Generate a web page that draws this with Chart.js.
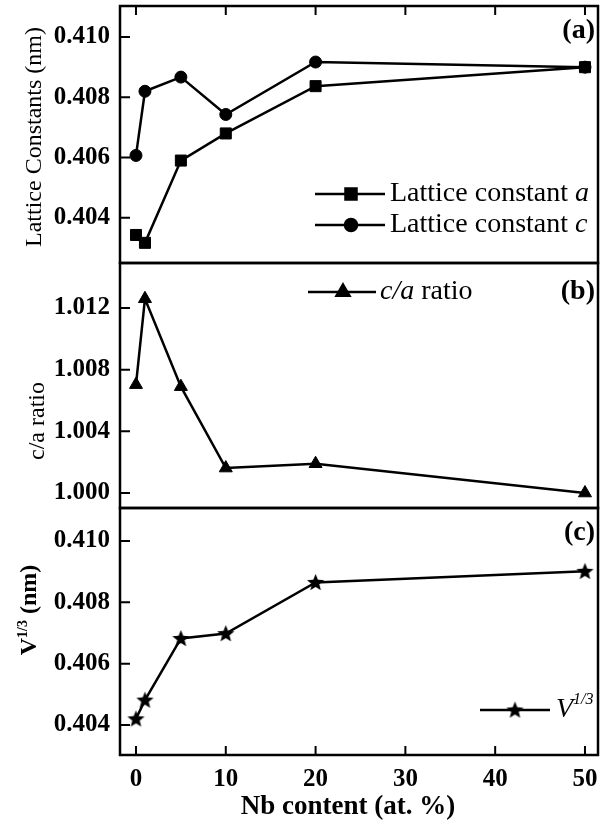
<!DOCTYPE html>
<html>
<head>
<meta charset="utf-8">
<script src="https://cdn.jsdelivr.net/npm/chart.js@4.4.1/dist/chart.umd.min.js"></script>
<style>
  body { margin: 0; background: #fff; }
  #wrap { position: relative; width: 603px; height: 826px; background: #fff; }
  canvas { position: absolute; left: 0; }
</style>
</head>
<body>
<div id="wrap">
  <canvas id="chartA" width="603" height="266" style="top:0;width:603px;height:266px"></canvas>
  <canvas id="chartB" width="603" height="251" style="top:260px;width:603px;height:251px"></canvas>
  <canvas id="chartC" width="603" height="321" style="top:505px;width:603px;height:321px"></canvas>
</div>
<script>
// данные
var nbContent = [0, 1, 5, 10, 20, 50];
var latticeA  = [0.40343, 0.40317, 0.40590, 0.40680, 0.40837, 0.40900];
var latticeC  = [0.40607, 0.40820, 0.40867, 0.40743, 0.40917, 0.40900];
var caRatio   = [1.00703, 1.01260, 1.00690, 1.00162, 1.00190, 1.00000];
var cubeRootV = [0.40420, 0.40481, 0.40682, 0.40698, 0.40865, 0.40901];

var xTicks  = [0, 10, 20, 30, 40, 50];
var yTicksA = [0.404, 0.406, 0.408, 0.410];
var yTicksB = [1.000, 1.004, 1.008, 1.012];
var yTicksC = [0.404, 0.406, 0.408, 0.410];

var SERIF = '"Liberation Serif", "Times New Roman", serif';

// закрашенная звезда для V^1/3
var starImg = document.createElement('canvas');
starImg.width = 19; starImg.height = 19;
(function() {
    var c = starImg.getContext('2d');
    c.fillStyle = '#000';
    c.beginPath();
    for (var i = 0; i < 10; i++) {
        var r = i % 2 === 0 ? 9 : 3.9;
        var a = -Math.PI / 2 + i * Math.PI / 5;
        var px = 9.5 + r * Math.cos(a), py = 10 + r * Math.sin(a);
        if (i === 0) c.moveTo(px, py); else c.lineTo(px, py);
    }
    c.closePath();
    c.fill();
})();

function pts(ys) {
    return nbContent.map(function(x, i) { return { x: x, y: ys[i] }; });
}

function series(label, ys, style, radius) {
    return {
        label: label,
        data: pts(ys),
        borderColor: '#000',
        borderWidth: 2.5,
        tension: 0,
        pointStyle: style,
        pointRadius: radius,
        pointBackgroundColor: '#000',
        pointBorderColor: '#000',
        pointBorderWidth: 1
    };
}

function drawMarker(ctx, style, radius, x, y) {
    if (style instanceof HTMLCanvasElement) {
        ctx.drawImage(style, x - style.width / 2, y - style.height / 2);
        return;
    }
    ctx.fillStyle = '#000';
    ctx.strokeStyle = '#000';
    Chart.helpers.drawPoint(ctx, { pointStyle: style, radius: radius, borderWidth: 1 }, x, y);
}

// строка легенды: —маркер— текст (части текста могут быть курсивом)
function legendRow(ctx, row) {
    ctx.save();
    ctx.strokeStyle = '#000';
    ctx.lineWidth = 2.5;
    ctx.beginPath();
    ctx.moveTo(row.x1, row.y);
    ctx.lineTo(row.x2, row.y);
    ctx.stroke();
    drawMarker(ctx, row.style, row.radius, row.mx, row.y);
    ctx.fillStyle = '#000';
    ctx.textBaseline = 'middle';
    ctx.textAlign = 'left';
    var x = row.tx;
    row.text.forEach(function(part) {
        var size = part.size || 28;
        ctx.font = (part.italic ? 'italic ' : '') + size + 'px ' + SERIF;
        ctx.fillText(part.t, x, row.y + (part.dy || 0));
        x += ctx.measureText(part.t).width;
    });
    ctx.restore();
}

function framePlugin(cfg) {
    return {
        id: 'frame',
        afterDraw: function(chart) {
            var ctx = chart.ctx, a = chart.chartArea;
            var xs = chart.scales.x, ys = chart.scales.y;
            ctx.save();
            ctx.strokeStyle = '#000';
            ctx.lineWidth = 2.5;
            ctx.strokeRect(a.left, a.top, a.right - a.left, a.bottom - a.top);
            ctx.lineWidth = 2;
            ctx.beginPath();
            cfg.yTicks.forEach(function(v) {
                var py = ys.getPixelForValue(v);
                ctx.moveTo(a.left, py);
                ctx.lineTo(a.left + 10, py);
            });
            xTicks.forEach(function(v) {
                var px = xs.getPixelForValue(v);
                if (cfg.topTicks) { ctx.moveTo(px, a.top); ctx.lineTo(px, a.top + 9); }
                if (cfg.bottomTicks) { ctx.moveTo(px, a.bottom); ctx.lineTo(px, a.bottom - 9); }
            });
            ctx.stroke();

            // подпись оси Y
            ctx.fillStyle = '#000';
            ctx.save();
            ctx.translate(cfg.yTitle.x, cfg.yTitle.y);
            ctx.rotate(-Math.PI / 2);
            ctx.textBaseline = 'middle';
            ctx.textAlign = 'left';
            var parts = cfg.yTitle.parts, total = 0;
            parts.forEach(function(p) {
                ctx.font = p.font;
                total += ctx.measureText(p.t).width;
            });
            var x = -total / 2;
            parts.forEach(function(p) {
                ctx.font = p.font;
                ctx.fillText(p.t, x, p.dy || 0);
                x += ctx.measureText(p.t).width;
            });
            ctx.restore();

            // (a), (b), (c)
            ctx.font = 'bold 28px ' + SERIF;
            ctx.textAlign = 'right';
            ctx.textBaseline = 'middle';
            ctx.fillText(cfg.tag.t, 595, cfg.tag.y);

            cfg.legend.forEach(function(row) { legendRow(ctx, row); });

            if (cfg.xTitle) {
                ctx.font = 'bold 27px ' + SERIF;
                ctx.textAlign = 'center';
                ctx.textBaseline = 'middle';
                ctx.fillText(cfg.xTitle.t, cfg.xTitle.x, cfg.xTitle.y);
            }
            ctx.restore();
        }
    };
}

function makePanel(id, cfg) {
    return new Chart(document.getElementById(id), {
        type: 'line',
        data: { datasets: cfg.datasets },
        options: {
            responsive: false,
            animation: false,
            layout: { padding: cfg.padding, autoPadding: false },
            plugins: { legend: { display: false }, tooltip: { enabled: false } },
            scales: {
                x: {
                    type: 'linear',
                    min: -1.78,
                    max: 51.45,
                    display: cfg.showX,
                    grid: { display: false, drawTicks: false },
                    border: { display: false },
                    ticks: {
                        color: '#000',
                        padding: 10,
                        maxRotation: 0,
                        font: { family: SERIF, size: 25, weight: 'bold' }
                    },
                    afterBuildTicks: function(s) { s.ticks = xTicks.map(function(v) { return { value: v }; }); },
                    afterFit: function(s) {
                        if (cfg.showX) s.height = 71;
                        s.paddingLeft = 0; s.paddingRight = 0;
                    }
                },
                y: {
                    type: 'linear',
                    min: cfg.yMin,
                    max: cfg.yMax,
                    grid: { display: false, drawTicks: false },
                    border: { display: false },
                    ticks: {
                        color: '#000',
                        padding: 10,
                        font: { family: SERIF, size: 25, weight: 'bold' },
                        callback: function(v) { return v.toFixed(3); }
                    },
                    afterBuildTicks: function(s) { s.ticks = cfg.yTicks.map(function(v) { return { value: v }; }); },
                    afterFit: function(s) {
                        s.width = 120;
                        s.paddingTop = 0; s.paddingBottom = 0;
                    }
                }
            }
        },
        plugins: [framePlugin(cfg)]
    });
}

// (a) постоянные решётки
makePanel('chartA', {
    datasets: [
        series('Lattice constant a', latticeA, 'rect', 7.8),
        series('Lattice constant c', latticeC, 'circle', 6)
    ],
    padding: { top: 6, bottom: 3, left: 0, right: 5 },
    showX: false,
    yMin: 0.4025, yMax: 0.41103, yTicks: yTicksA,
    topTicks: true,
    yTitle: { x: 35, y: 137, parts: [{ t: 'Lattice Constants (nm)', font: '24px ' + SERIF }] },
    tag: { t: '(a)', y: 31 },
    legend: [
        { x1: 315, x2: 385, mx: 351, y: 194, style: 'rect', radius: 7.8, tx: 390,
          text: [{ t: 'Lattice constant ' }, { t: 'a', italic: true }] },
        { x1: 315, x2: 385, mx: 351, y: 225, style: 'circle', radius: 6, tx: 390,
          text: [{ t: 'Lattice constant ' }, { t: 'c', italic: true }] }
    ]
});

// (b) отношение c/a
makePanel('chartB', {
    datasets: [series('c/a ratio', caRatio, 'triangle', 7.5)],
    padding: { top: 3, bottom: 3, left: 0, right: 5 },
    showX: false,
    yMin: 0.99903, yMax: 1.01492, yTicks: yTicksB,
    yTitle: { x: 38, y: 161, parts: [{ t: 'c/a ratio', font: '24px ' + SERIF }] },
    tag: { t: '(b)', y: 32 },
    legend: [
        { x1: 308, x2: 376, mx: 343, y: 32, style: 'triangle', radius: 7.5, tx: 380,
          text: [{ t: 'c/a', italic: true }, { t: ' ratio' }] }
    ]
});

// (c) V^1/3
makePanel('chartC', {
    datasets: [series('V1/3', cubeRootV, starImg, 9)],
    padding: { top: 3, bottom: 0, left: 0, right: 5 },
    showX: true,
    yMin: 0.40302, yMax: 0.411076, yTicks: yTicksC,
    bottomTicks: true,
    yTitle: { x: 30, y: 105, parts: [
        { t: 'V', font: 'bold 24px ' + SERIF },
        { t: '1/3', font: 'bold 14px ' + SERIF, dy: -7 },
        { t: ' (nm)', font: 'bold 24px ' + SERIF }
    ] },
    tag: { t: '(c)', y: 28 },
    legend: [
        { x1: 480, x2: 550, mx: 515, y: 205, style: starImg, radius: 9, tx: 556,
          text: [{ t: 'V', italic: true }, { t: '1/3', italic: true, size: 16, dy: -10 }] }
    ],
    xTitle: { t: 'Nb content (at. %)', x: 348, y: 302 }
});
</script>
</body>
</html>
